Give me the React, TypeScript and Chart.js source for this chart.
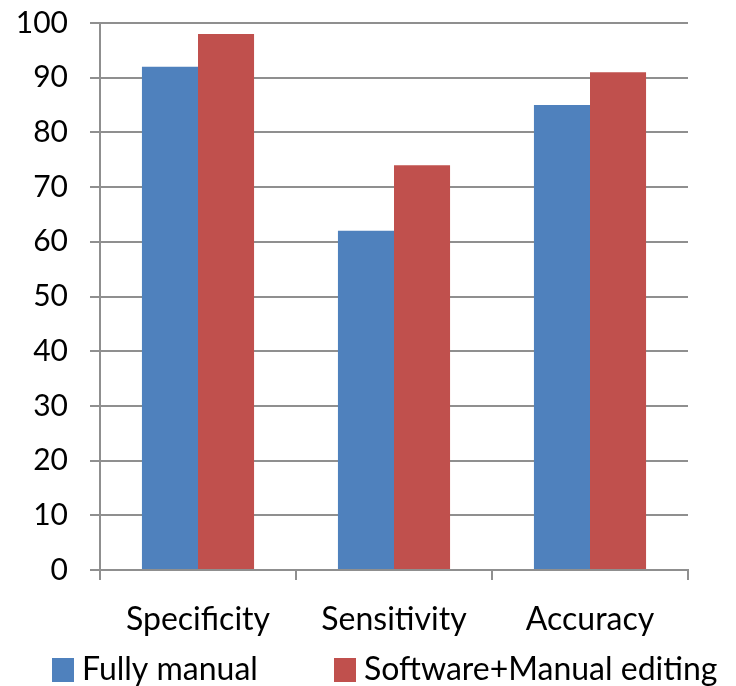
import React, { useEffect, useRef } from "react";
import { Chart, registerables } from "chart.js";

Chart.register(...registerables);

const categories = ["Specificity", "Sensitivity", "Accuracy"];
const fullyManual = [92, 62, 85];
const softwareManual = [98, 74, 91];
const seriesNames = ["Fully manual", "Software+Manual editing"];
const seriesColors = ["#4F81BD", "#C0504D"];

const FONT = "Lato, 'Open Sans', sans-serif";
const GRID = "#8f8f8f";

// Bottom legend drawn as square swatches followed by the series names
const bottomLegend = {
  id: "bottomLegend",
  afterDraw(chart: Chart) {
    const ctx = chart.ctx;
    const items = [
      { x: 52, color: seriesColors[0], text: seriesNames[0] },
      { x: 334, color: seriesColors[1], text: seriesNames[1] },
    ];
    ctx.save();
    ctx.font = `32px ${FONT}`;
    ctx.textBaseline = "alphabetic";
    ctx.textAlign = "left";
    for (const it of items) {
      ctx.fillStyle = it.color;
      ctx.fillRect(it.x, 658, 22, 24);
      ctx.fillStyle = "#000";
      ctx.fillText(it.text, it.x + 30, 680);
    }
    ctx.restore();
  },
};

export default function App() {
  const ref = useRef<HTMLCanvasElement>(null);

  useEffect(() => {
    if (!ref.current) return;
    const chart = new Chart(ref.current, {
      type: "bar",
      data: {
        labels: categories,
        datasets: [
          {
            label: seriesNames[0],
            data: fullyManual,
            backgroundColor: seriesColors[0],
            categoryPercentage: 0.572,
            barPercentage: 1,
          },
          {
            label: seriesNames[1],
            data: softwareManual,
            backgroundColor: seriesColors[1],
            categoryPercentage: 0.572,
            barPercentage: 1,
          },
        ],
      },
      options: {
        responsive: false,
        animation: false,
        layout: { padding: { top: 23, right: 48, bottom: 0, left: 0 } },
        plugins: {
          legend: { display: false },
          tooltip: { enabled: false },
        },
        scales: {
          y: {
            min: 0,
            max: 100,
            ticks: {
              stepSize: 10,
              color: "#000",
              padding: 22,
              font: { family: FONT, size: 30 },
            },
            grid: { color: GRID, lineWidth: 2, tickLength: 10 },
            border: { color: GRID, width: 2 },
            afterFit: (scale: any) => {
              scale.width = 100;
              scale.paddingTop = 0;
              scale.paddingBottom = 0;
            },
          },
          x: {
            ticks: {
              color: "#000",
              padding: 20,
              font: { family: FONT, size: 32 },
            },
            grid: {
              color: GRID,
              lineWidth: 2,
              tickLength: 10,
              drawOnChartArea: false,
              offset: true,
            },
            border: { color: GRID, width: 2 },
            afterFit: (scale: any) => {
              scale.height = 116;
              scale.paddingLeft = 0;
              scale.paddingRight = 0;
            },
          },
        },
      },
      plugins: [bottomLegend],
    });
    return () => chart.destroy();
  }, []);

  return (
    <div style={{ position: "fixed", left: 0, top: 0, width: 736, height: 686, background: "#fff" }}>
      <canvas ref={ref} width={736} height={686} />
    </div>
  );
}
